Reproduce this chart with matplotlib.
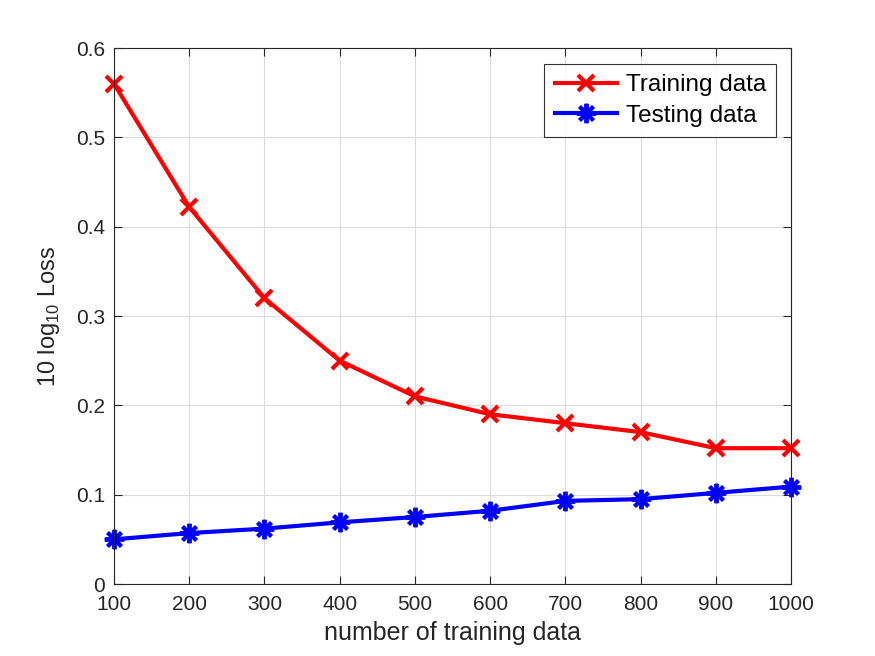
import matplotlib
matplotlib.use('Agg')
import matplotlib.pyplot as plt
import numpy as np

# Data
n_train = [100, 200, 300, 400, 500, 600, 700, 800, 900, 1000]
loss_train = [0.56, 0.422, 0.32, 0.25, 0.21, 0.19, 0.18, 0.17, 0.152, 0.152]
loss_test = [0.05, 0.057, 0.062, 0.069, 0.075, 0.082, 0.093, 0.095, 0.102, 0.109]

plt.rcParams['font.family'] = ['Liberation Sans', 'DejaVu Sans']
plt.rcParams['mathtext.fontset'] = 'custom'
plt.rcParams['mathtext.rm'] = 'Liberation Sans'

fig = plt.figure(figsize=(8.75, 6.56), dpi=100)
ax = fig.add_axes([114 / 875, 1 - 584 / 656, (791 - 114) / 875, (584 - 48) / 656])

ax.plot(n_train, loss_train, color='red', linewidth=3, marker='x',
        markersize=12, markeredgewidth=3, label='Training data', clip_on=False)
ax.plot(n_train, loss_test, color='blue', linewidth=3, marker=(8, 2, 0),
        markersize=14, markeredgewidth=2.8, label='Testing data', clip_on=False)

ax.set_xlim(100, 1000)
ax.set_ylim(0, 0.6)
ax.set_xticks(np.arange(100, 1001, 100))
ax.set_yticks(np.arange(0, 0.61, 0.1))
ax.set_yticklabels(['0', '0.1', '0.2', '0.3', '0.4', '0.5', '0.6'])

ax.grid(True, color='#dcdcdc', linewidth=0.8)
ax.set_axisbelow(True)
ax.tick_params(direction='in', length=6, width=0.8, colors='#262626',
               labelsize=15, top=True, right=True)
ax.tick_params(axis='x', pad=8)
ax.tick_params(axis='y', pad=6.5)
for s in ax.spines.values():
    s.set_color('#262626')
    s.set_linewidth(0.8)

ax.set_xlabel('number of training data', fontsize=18, color='#262626', labelpad=5)
ax.set_ylabel(r'10 log$_{10}$ Loss', fontsize=17, color='#262626', labelpad=10)

leg = ax.legend(loc='upper right', bbox_to_anchor=(776 / 875, 1 - 64 / 656),
                bbox_transform=fig.transFigure, borderaxespad=0,
                fontsize=17.5, frameon=True, fancybox=False,
                edgecolor='black', handlelength=2.55, borderpad=0.42,
                labelspacing=0.36, handletextpad=0.37)
leg.get_frame().set_linewidth(0.8)

fig.savefig('out.png', dpi=100)
